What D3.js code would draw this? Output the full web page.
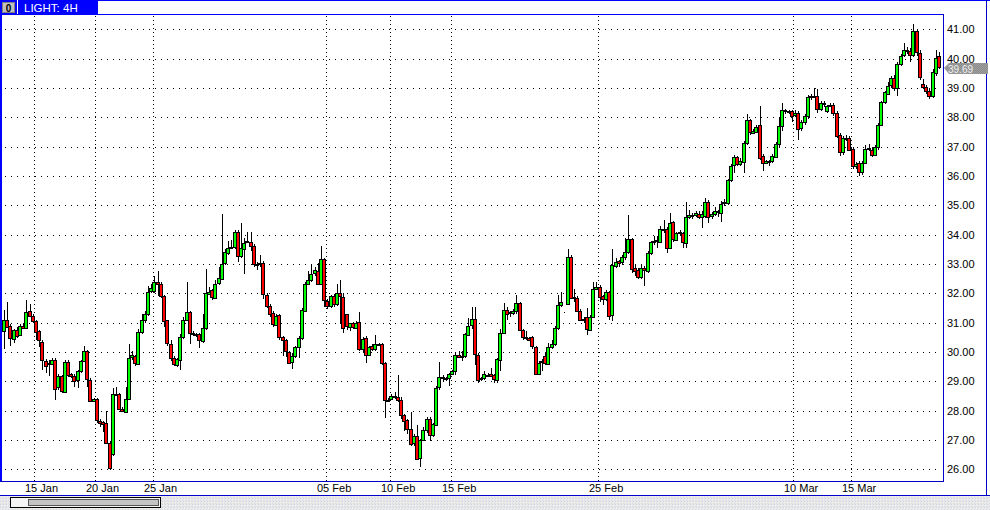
<!DOCTYPE html>
<html><head><meta charset="utf-8">
<script src="https://cdn.jsdelivr.net/npm/d3@7"></script>
<style>html,body{margin:0;padding:0;background:#fff;overflow:hidden}svg{display:block}</style>
</head><body><svg id="c" width="990" height="510"></svg>
<script>
const title = "LIGHT: 4H";
const opens = [
30.74,31.10,30.87,30.47,30.76,30.56,30.88,30.82,31.40,31.22,
31.06,30.72,30.35,29.69,29.60,29.60,29.74,28.78,29.17,28.65,
29.67,29.24,29.17,29.03,29.35,29.69,30.03,29.03,28.31,28.38,
27.65,27.60,27.58,26.88,26.51,28.56,28.56,28.06,27.97,28.42,
29.81,29.85,29.60,30.69,31.10,31.31,32.06,32.06,32.38,32.33,
31.92,31.08,30.26,29.78,29.56,29.74,30.51,31.10,31.37,30.65,
30.62,30.60,30.37,30.80,32.00,32.10,31.85,32.33,32.49,33.01,
33.38,33.56,33.58,34.08,33.26,33.53,33.76,33.75,33.62,
33.01,33.00,33.03,31.95,31.58,31.33,30.94,31.26,30.51,30.40,
30.01,29.65,29.85,30.15,30.47,31.42,32.33,32.47,32.67,32.76,
32.33,33.17,31.74,31.58,31.92,31.63,32.01,31.87,31.29,30.83,
30.98,30.83,31.01,30.10,30.47,29.90,30.20,30.10,30.28,30.28,
29.62,28.35,28.40,28.50,28.48,28.37,27.85,27.67,27.37,26.87,
27.15,26.37,27.00,27.33,27.72,27.17,27.53,28.78,29.13,29.12,
29.13,29.26,29.33,29.88,29.82,29.86,30.60,30.89,31.11,29.90,
29.05,29.10,29.22,29.26,29.20,29.05,29.75,30.66,31.43,31.30,
31.33,31.39,31.66,30.75,30.50,30.48,30.50,30.18,29.25,29.64,
29.86,29.61,30.18,30.27,30.82,31.61,31.35,31.64,33.25,31.86,
31.84,31.41,31.12,31.18,30.77,31.20,32.16,32.23,31.90,31.80,
32.04,31.23,32.95,33.09,33.05,33.23,33.41,33.84,32.86,32.80,
32.57,32.86,32.76,33.36,33.75,33.79,33.75,34.18,34.20,33.55,
34.43,33.84,34.07,34.05,33.73,34.61,34.66,34.68,34.72,34.63,
34.63,35.12,34.62,34.72,34.78,34.75,35.06,35.08,35.85,36.35,36.63,
36.40,36.47,37.10,37.90,37.49,37.49,37.74,36.67,36.44,36.48,
36.50,36.67,37.08,37.69,38.24,38.22,38.20,38.10,38.16,37.62,
37.83,38.03,38.69,38.72,38.72,38.28,38.45,38.22,38.42,38.42,
38.15,37.38,36.81,37.28,37.30,36.92,36.33,36.44,36.12,36.44,
36.90,36.90,36.72,36.99,37.74,38.50,38.80,39.08,39.35,39.00,
39.83,40.10,40.26,40.26,40.12,40.94,40.20,39.13,39.03,38.88,
38.72,39.53,40.08];
const highs = [
31.42,31.70,30.97,30.80,30.85,30.94,30.97,31.76,31.65,31.30,
31.10,30.76,30.40,29.76,29.74,29.78,29.78,29.24,29.22,29.74,
29.72,29.30,29.24,29.40,29.72,30.19,30.06,29.10,28.42,28.42,
27.70,27.65,27.99,26.95,28.78,28.81,28.60,28.12,28.81,30.26,
30.03,29.90,30.80,31.31,31.40,32.24,32.31,32.60,32.76,32.40,
31.95,31.10,30.40,29.85,29.80,30.60,31.20,32.40,31.40,30.70,
30.66,30.64,31.31,32.83,32.20,32.15,32.44,32.90,34.69,33.50,
33.79,33.81,34.15,34.15,34.40,33.90,34.10,34.10,33.68,
33.06,33.31,33.10,32.00,31.65,31.40,31.31,31.30,30.55,30.45,
30.05,29.95,30.20,30.55,31.50,32.40,32.76,32.97,32.90,33.04,
33.60,33.20,31.80,31.95,31.98,32.31,32.44,32.01,31.31,31.00,
31.02,31.05,31.35,30.50,30.55,30.20,30.26,30.58,30.32,30.30,
29.65,28.42,28.58,28.62,29.22,28.45,27.90,27.70,27.95,27.20,
27.50,27.05,27.45,27.80,27.78,27.58,28.85,29.67,29.20,29.16,
29.30,29.40,29.95,30.05,30.02,30.65,31.15,31.52,31.52,29.95,
29.15,29.35,29.28,29.45,29.25,29.80,30.80,31.68,31.55,31.40,
31.45,31.95,31.70,30.80,30.70,30.52,30.55,30.22,29.70,29.75,
29.95,30.30,30.40,30.90,31.93,32.05,31.35,33.52,33.30,32.15,
31.90,31.45,31.20,31.50,31.25,32.40,32.38,32.28,31.95,32.10,
32.08,33.50,33.20,33.15,33.30,33.89,34.66,33.90,32.95,32.85,
32.95,32.92,33.45,33.80,33.95,33.95,34.30,34.50,34.25,34.75,
34.48,34.10,34.15,34.10,35.10,34.85,34.75,34.80,34.80,34.80,
35.26,35.18,34.78,34.95,34.85,35.15,35.20,35.90,36.40,36.70,36.68,
36.60,37.20,38.10,37.95,37.60,37.75,38.38,36.75,36.55,36.55,
36.75,37.15,38.01,38.49,38.30,38.25,38.25,38.25,38.20,37.90,
38.10,38.75,38.80,39.01,38.95,38.55,38.55,38.42,38.50,38.48,
38.20,37.45,37.35,37.40,37.35,36.98,36.48,36.50,36.50,37.05,
37.10,36.98,37.05,37.80,38.55,38.90,39.20,39.40,39.45,39.90,
40.15,40.53,40.40,40.35,41.17,41.00,40.30,39.30,39.10,38.95,
39.65,40.31,40.22];
const lows = [
30.11,30.85,30.19,30.30,30.49,30.53,30.78,30.78,31.20,31.00,
30.40,30.17,29.40,29.28,29.17,29.56,28.37,28.69,28.60,28.60,
29.15,29.10,28.81,28.78,29.30,29.65,28.81,28.28,28.28,27.58,
27.44,27.26,26.85,25.99,26.45,28.50,28.01,27.95,27.93,28.38,
29.74,29.51,29.56,30.60,31.00,31.24,32.00,32.00,31.90,31.85,
30.85,30.20,29.70,29.51,29.50,29.38,30.45,31.05,30.28,30.55,
30.52,30.15,30.30,30.75,31.95,31.76,31.80,32.28,32.45,32.95,
33.30,33.50,33.50,33.06,33.20,32.67,33.70,33.45,32.90,
32.80,32.90,31.81,31.50,31.20,30.85,30.90,30.40,29.85,29.82,
29.60,29.42,29.80,29.80,30.42,31.35,32.28,32.40,32.60,32.30,
32.28,31.53,31.45,31.50,31.55,31.58,30.97,30.65,30.75,30.70,
30.78,30.78,30.05,29.95,29.62,29.85,30.05,30.05,30.22,29.55,
27.76,28.28,28.35,28.40,28.30,27.70,27.30,27.20,26.80,26.80,
26.35,26.08,26.95,27.25,26.97,27.10,27.48,28.70,29.00,29.00,
28.85,29.20,29.20,29.78,29.70,29.80,30.55,30.80,29.56,28.95,
29.00,29.05,29.15,29.15,28.95,28.95,29.35,30.60,31.10,31.20,
31.25,31.30,30.70,30.40,30.40,30.38,30.10,29.21,29.20,29.35,
29.55,29.55,30.10,30.20,30.75,31.55,31.33,31.60,31.80,31.72,
31.35,31.05,31.00,30.57,30.70,31.15,32.10,31.70,31.60,31.75,
31.10,31.07,32.85,32.90,32.98,33.15,33.35,32.70,32.60,32.50,
32.50,32.24,32.70,33.30,33.65,33.55,33.70,34.05,33.36,33.50,
33.75,33.80,33.95,33.55,33.55,34.55,34.55,34.60,34.55,34.22,
34.58,34.38,34.55,34.65,34.60,34.44,34.98,35.00,35.80,36.10,36.35,
36.35,36.10,37.05,37.40,37.45,37.45,36.55,36.17,36.40,36.35,
36.45,36.60,37.00,37.55,38.10,38.10,37.85,38.00,37.22,37.55,
37.75,37.95,38.60,38.65,38.15,38.20,38.35,38.15,38.35,38.05,
37.30,36.69,36.70,37.20,36.85,36.25,36.25,35.99,36.05,36.40,
36.85,36.65,36.68,36.90,37.70,38.45,38.75,39.00,38.90,38.72,
39.75,40.05,40.15,39.90,40.05,40.10,39.28,39.00,38.80,38.63,
38.65,39.40,39.65];
const closes = [
31.10,30.87,30.47,30.76,30.56,30.88,30.82,31.37,31.24,31.06,
30.69,30.40,29.72,29.53,29.63,29.72,28.75,29.17,28.65,29.67,
29.24,29.17,29.01,29.35,29.69,30.03,29.06,28.31,28.38,27.65,
27.58,27.53,26.90,26.02,28.56,28.53,28.06,27.99,28.40,29.81,
29.88,29.62,30.69,31.10,31.31,32.06,32.17,32.38,32.31,31.92,
31.08,30.28,29.78,29.56,29.76,30.51,31.10,31.37,30.65,30.60,
30.58,30.38,30.83,32.00,32.06,31.87,32.33,32.51,33.01,33.40,
33.56,33.58,34.08,33.26,33.53,33.72,33.80,33.62,33.01,
32.97,33.03,31.99,31.58,31.31,30.94,31.24,30.51,30.40,30.01,
29.65,29.87,30.17,30.47,31.42,32.33,32.47,32.67,32.78,32.33,
33.17,31.76,31.58,31.92,31.65,32.01,31.90,30.82,30.88,30.98,
30.83,31.00,30.10,30.44,29.90,30.17,30.10,30.28,30.25,29.62,
28.35,28.33,28.50,28.47,28.37,27.85,27.65,27.37,26.87,27.12,
26.37,27.00,27.35,27.70,27.17,27.53,28.78,29.13,29.10,29.08,
29.26,29.35,29.88,29.82,29.86,30.60,30.89,31.11,29.90,29.05,
29.10,29.25,29.18,29.20,29.05,29.75,30.66,31.43,31.30,31.35,
31.39,31.66,30.75,30.50,30.45,30.42,30.18,29.25,29.64,29.68,
29.61,30.18,30.27,30.82,31.61,31.70,31.34,33.25,31.86,31.84,
31.41,31.11,31.08,30.77,31.20,32.16,32.22,31.90,31.80,32.04,
31.23,32.95,33.07,33.03,33.23,33.41,33.84,32.82,32.75,32.57,
32.86,32.78,33.36,33.75,33.79,33.82,34.18,34.20,33.55,34.39,
33.84,34.07,34.10,33.73,34.61,34.68,34.68,34.74,34.63,34.72,
35.12,34.62,34.70,34.81,34.80,35.06,35.10,35.85,36.33,36.63,36.40,
36.51,37.13,37.90,37.49,37.55,37.67,36.63,36.44,36.50,36.52,
36.67,37.10,37.69,38.24,38.20,38.18,38.04,38.16,37.60,37.83,
38.03,38.69,38.72,38.74,38.28,38.50,38.48,38.38,38.40,38.15,
37.38,36.81,37.28,37.30,36.90,36.33,36.40,36.12,36.44,36.92,
36.95,36.72,36.99,37.74,38.51,38.85,39.08,39.33,39.00,39.83,
40.10,40.28,40.30,40.12,40.94,40.22,39.38,39.03,38.88,38.72,
39.53,40.03,39.69];
const priceTicks = [26,27,28,29,30,31,32,33,34,35,36,37,38,39,40,41];
const dateLabels = ["15 Jan","20 Jan","25 Jan","05 Feb","10 Feb","15 Feb","25 Feb","10 Mar","15 Mar"];
const dateBars = [9,28,46,100,120,139,185,246,264];
const lastPrice = 39.69;

const svg = d3.select("#c");
const BLUE = "#0000ff";
const FONT = "'Liberation Sans', Arial, sans-serif";

const x = d3.scaleLinear().domain([0, closes.length - 1]).range([4, 939]);
const y = d3.scaleLinear().domain([26, 41]).range([469.3, 29.3]);

// defs: dithered patterns for scroll strip and price box
const defs = svg.append("defs");
const p1 = defs.append("pattern").attr("id","dith").attr("width",3).attr("height",3).attr("patternUnits","userSpaceOnUse");
p1.append("rect").attr("width",3).attr("height",3).attr("fill","#e9e9ec");
p1.append("rect").attr("x",0).attr("y",0).attr("width",1).attr("height",1).attr("fill","#c9d2e6");
p1.append("rect").attr("x",1).attr("y",1).attr("width",1).attr("height",1).attr("fill","#f4eedd");
p1.append("rect").attr("x",2).attr("y",2).attr("width",1).attr("height",1).attr("fill","#d8dde0");
const p2 = defs.append("pattern").attr("id","dith2").attr("width",2).attr("height",2).attr("patternUnits","userSpaceOnUse");
p2.append("rect").attr("width",2).attr("height",2).attr("fill","#8a8a8a");
p2.append("rect").attr("width",1).attr("height",1).attr("fill","#a0a0a0");
p2.append("rect").attr("x",1).attr("y",1).attr("width",1).attr("height",1).attr("fill","#a0a0a0");

svg.append("rect").attr("width",990).attr("height",510).attr("fill","#fff");

// scroll strip
svg.append("rect").attr("x",0).attr("y",496).attr("width",990).attr("height",14).attr("fill","url(#dith)");
svg.append("rect").attr("x",10.5).attr("y",497.5).attr("width",150).attr("height",10).attr("fill","#f4f4f4").attr("stroke","#000");
svg.append("rect").attr("x",28.5).attr("y",499.5).attr("width",130).attr("height",6).attr("fill","#c4c4c4").attr("stroke","#555");

// grid
const grid = svg.append("g").attr("shape-rendering","crispEdges");
grid.selectAll("line.h").data(priceTicks).join("line")
  .attr("x1",5).attr("x2",941)
  .attr("y1",d=>Math.round(y(d))+0.5).attr("y2",d=>Math.round(y(d))+0.5)
  .attr("stroke","#000").attr("stroke-dasharray","1,5");
grid.selectAll("line.v").data(dateBars).join("line")
  .attr("x1",d=>Math.round(x(d+0.5))+0.5).attr("x2",d=>Math.round(x(d+0.5))+0.5)
  .attr("y1",16).attr("y2",481)
  .attr("stroke","#000").attr("stroke-dasharray","1,3");

// candles
const idx = d3.range(closes.length);
const cg = svg.append("g").attr("shape-rendering","crispEdges");
cg.selectAll("line.w").data(idx).join("line")
  .attr("x1",i=>Math.round(x(i))+0.5).attr("x2",i=>Math.round(x(i))+0.5)
  .attr("y1",i=>y(highs[i])).attr("y2",i=>y(lows[i]))
  .attr("stroke","#000").attr("stroke-width",1);
cg.selectAll("rect.b").data(idx).join("rect")
  .attr("x",i=>Math.round(x(i))-1.5)
  .attr("width",3)
  .attr("y",i=>Math.round(y(Math.max(opens[i],closes[i])))+0.5)
  .attr("height",i=>Math.max(0, Math.round(Math.abs(y(opens[i])-y(closes[i])))))
  .attr("fill",i=>closes[i]>=opens[i]?"#00ff00":"#ff0000")
  .attr("stroke","#000").attr("stroke-width",1);

// frame
const fr = svg.append("g").attr("shape-rendering","crispEdges").attr("stroke-width",1);
fr.append("line").attr("x1",0).attr("x2",990).attr("y1",0.5).attr("y2",0.5).attr("stroke",BLUE);
fr.append("line").attr("x1",0).attr("x2",944).attr("y1",14.5).attr("y2",14.5).attr("stroke",BLUE);
fr.append("line").attr("x1",1).attr("x2",1).attr("y1",0).attr("y2",482).attr("stroke",BLUE).attr("stroke-width",2);
fr.append("line").attr("x1",943.5).attr("x2",943.5).attr("y1",14).attr("y2",482).attr("stroke","#0000c8");
fr.append("line").attr("x1",0).attr("x2",944).attr("y1",481.5).attr("y2",481.5).attr("stroke","#0000c8");
fr.append("line").attr("x1",0).attr("x2",990).attr("y1",495.5).attr("y2",495.5).attr("stroke","#0000c8");
fr.append("line").attr("x1",986.5).attr("x2",986.5).attr("y1",0).attr("y2",496).attr("stroke","#0000c8");

// title bar
svg.append("rect").attr("x",0).attr("y",0).attr("width",98).attr("height",14).attr("fill",BLUE);
svg.append("line").attr("x1",17.5).attr("x2",17.5).attr("y1",0).attr("y2",14).attr("stroke","#fff").attr("shape-rendering","crispEdges");
svg.append("rect").attr("x",2.5).attr("y",2.5).attr("width",12).attr("height",10).attr("fill","#c0c0c0").attr("stroke","#808080").attr("shape-rendering","crispEdges");
svg.append("text").attr("x",8.5).attr("y",11.5).attr("text-anchor","middle").attr("font-family",FONT).attr("font-weight","bold").attr("font-size",10).attr("fill","#000").text("0");
svg.append("text").attr("x",24).attr("y",11.5).attr("font-family",FONT).attr("font-size",11.5).attr("fill","#fff").text(title);

// price axis labels
svg.append("g").selectAll("text").data(priceTicks).join("text")
  .attr("x",947).attr("y",d=>y(d)+4)
  .attr("font-family",FONT).attr("font-size",11).attr("fill","#000")
  .text(d=>d3.format(".2f")(d));

// date labels
svg.append("g").selectAll("text").data(dateBars).join("text")
  .attr("x",d=>Math.round(x(d+0.5))-9).attr("y",492)
  .attr("font-family",FONT).attr("font-size",11).attr("fill","#000")
  .text((d,i)=>dateLabels[i]);

// last price marker
const ly = Math.round(y(lastPrice));
svg.append("path").attr("d",`M944,${ly} L949,${ly-5} L988,${ly-5} L988,${ly+6} L949,${ly+6} Z`).attr("fill","url(#dith2)");
svg.append("text").attr("x",948).attr("y",ly+5).attr("font-family",FONT).attr("font-size",10).attr("fill","#f0f0f0").text(d3.format(".2f")(lastPrice));
</script>
</body></html>
